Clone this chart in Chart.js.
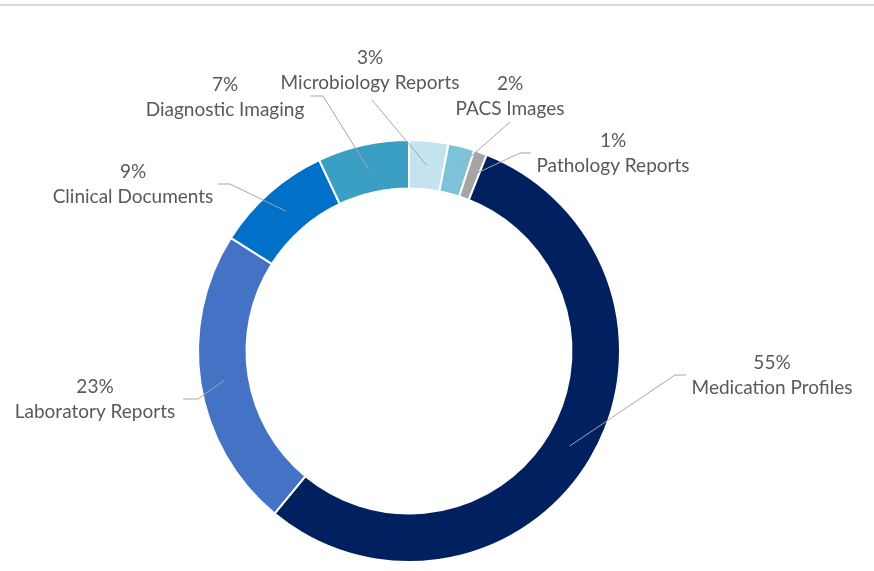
<!DOCTYPE html>
<html>
<head>
<meta charset="utf-8">
<script src="https://cdn.jsdelivr.net/npm/chart.js@4"></script>
<style>
  html, body { margin: 0; padding: 0; background: #fff; }
  #wrap { position: relative; width: 874px; height: 571px; }
  #topline { position: absolute; left: 0; top: 4px; width: 874px; height: 2px; background: #d9d9d9; }
</style>
</head>
<body>
<div id="wrap">
  <div id="topline"></div>
  <canvas id="donut" width="874" height="571"></canvas>
</div>
<script>
// ////// data ////////
const categories = ['Microbiology Reports', 'PACS Images', 'Pathology Reports', 'Medication Profiles',
                    'Laboratory Reports', 'Clinical Documents', 'Diagnostic Imaging'];
const shares = [3, 2, 1, 55, 23, 9, 7];
const sliceColors = ['#c5e3ee', '#7cc2d9', '#a5a5a5', '#002060', '#4472c4', '#0070c8', '#3a9fc3'];

// where each label sits (center of text block) and where its leader bends
const labelSpots = [
    { x: 370, y: 70, elbow: [372, 100], end: [372, 100] },
    { x: 510, y: 96, elbow: [510, 122], end: [510, 122] },
    { x: 613, y: 153, elbow: [520, 153], end: [531, 153] },
    { x: 772, y: 375, elbow: [675, 375], end: [686, 375] },
    { x: 95, y: 399, elbow: [198, 399], end: [183, 399] },
    { x: 133, y: 184, elbow: [230, 184], end: [218, 184] },
    { x: 225, y: 97, elbow: [323, 96], end: [310, 96] }
];

////// label plugin with leader lines //////
const calloutLabels = {
    id: 'calloutLabels',
    afterDatasetsDraw(chart) {
        const ctx = chart.ctx;
        const meta = chart.getDatasetMeta(0);
        const total = shares.reduce((a, b) => a + b, 0);
        ctx.save();
        meta.data.forEach(function(arc, i) {
            const p = arc.getProps(['x', 'y', 'startAngle', 'endAngle', 'innerRadius', 'outerRadius'], true);
            const mid = (p.startAngle + p.endAngle) / 2;
            const r = (p.innerRadius + p.outerRadius) / 2;
            const sx = p.x + Math.cos(mid) * r;
            const sy = p.y + Math.sin(mid) * r;
            const spot = labelSpots[i];
            ctx.strokeStyle = '#a6a6a6';
            ctx.lineWidth = 1;
            ctx.beginPath();
            ctx.moveTo(sx, sy);
            ctx.lineTo(spot.elbow[0], spot.elbow[1]);
            ctx.lineTo(spot.end[0], spot.end[1]);
            ctx.stroke();

            ctx.fillStyle = '#595959';
            ctx.font = '19px Lato';
            ctx.textAlign = 'center';
            ctx.textBaseline = 'middle';
            const pct = Math.round(shares[i] / total * 100) + '%';
            ctx.fillText(pct, spot.x, spot.y - 12);
            ctx.fillText(categories[i], spot.x, spot.y + 13);
        });
        ctx.restore();
    }
};

const data = {
    labels: categories,
    datasets: [{
        data: shares,
        backgroundColor: sliceColors,
        borderColor: '#ffffff',
        borderWidth: 2,
        hoverOffset: 0
    }]
};

const config = {
    type: 'doughnut',
    data: data,
    options: {
        responsive: false,
        animation: false,
        cutout: '77%',
        layout: { padding: { top: 139, bottom: 8, left: 0, right: 56 } },
        plugins: {
            legend: { display: false },
            tooltip: { enabled: false }
        }
    },
    plugins: [calloutLabels]
};

var myChart = new Chart(document.getElementById('donut'), config);
</script>
</body>
</html>
